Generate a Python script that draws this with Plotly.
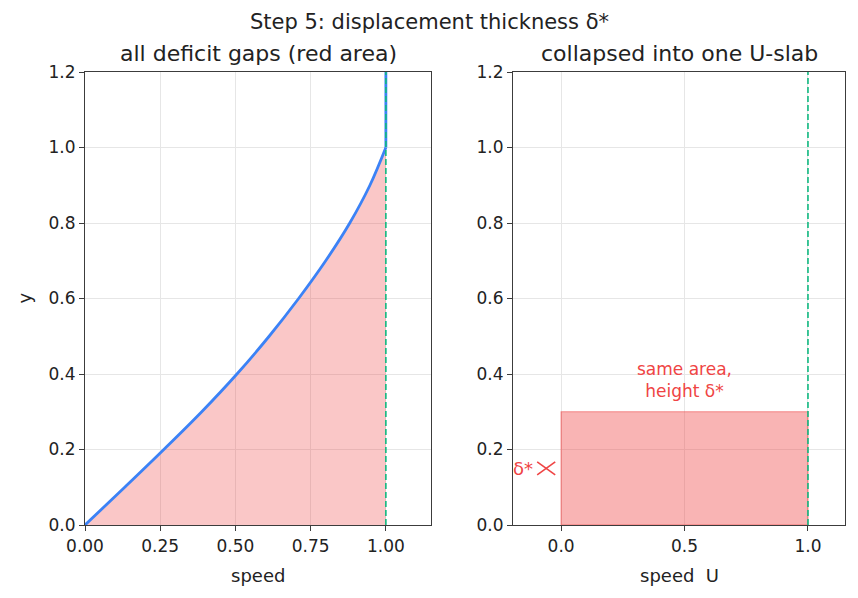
import plotly.graph_objects as go

# ---- data ----
y_vals = [0.0, 0.1, 0.2, 0.3, 0.4, 0.5, 0.6, 0.7, 0.8, 0.9, 1.0]
u_vals = [0.0, 0.132, 0.262, 0.388, 0.505, 0.612, 0.71, 0.80, 0.88, 0.947, 1.0]
y_free = [1.0, 1.2]
u_free = [1.0, 1.0]
U = 1.0
delta_star = 0.3
left_xticks = [0.0, 0.25, 0.5, 0.75, 1.0]
right_xticks = [0.0, 0.5, 1.0]
yticks = [0.0, 0.2, 0.4, 0.6, 0.8, 1.0, 1.2]

BLUE = "#3b82f6"
GREEN = "#10b981"
RED = "#ef4444"
TXT = "#222222"
AX = "#3c3c3c"
GRID = "#e6e6e6"
FONT = "DejaVu Sans"

W, H = 858, 598
L_dom = [85 / W, 431 / W]
R_dom = [513 / W, 845 / W]
Y_dom = [1 - 525 / H, 1 - 72 / H]

fig = go.Figure()

# left: deficit fill between curve and U
fig.add_trace(go.Scatter(x=[U] * len(y_vals), y=y_vals, mode="lines",
                         line=dict(width=0, color="rgba(0,0,0,0)"),
                         xaxis="x", yaxis="y", showlegend=False, hoverinfo="skip"))
fig.add_trace(go.Scatter(x=u_vals, y=y_vals, mode="lines", fill="tonextx",
                         fillcolor="rgba(239,68,68,0.30)",
                         line=dict(color=BLUE, width=2.8, shape="spline", smoothing=1.0),
                         xaxis="x", yaxis="y", showlegend=False))
fig.add_trace(go.Scatter(x=u_free, y=y_free, mode="lines",
                         line=dict(color=BLUE, width=2.8),
                         xaxis="x", yaxis="y", showlegend=False))
fig.add_trace(go.Scatter(x=[U, U], y=[0, yticks[-1]], mode="lines",
                         line=dict(color=GREEN, width=1.6, dash="6px,3px"),
                         xaxis="x", yaxis="y", showlegend=False))

# right: slab
fig.add_trace(go.Scatter(x=[0, U, U, 0, 0], y=[0, 0, delta_star, delta_star, 0],
                         mode="lines", fill="toself",
                         fillcolor="rgba(239,68,68,0.40)",
                         line=dict(color="rgba(239,68,68,0.55)", width=1.2),
                         xaxis="x2", yaxis="y2", showlegend=False))
fig.add_trace(go.Scatter(x=[U, U], y=[0, yticks[-1]], mode="lines",
                         line=dict(color=GREEN, width=1.6, dash="6px,3px"),
                         xaxis="x2", yaxis="y2", showlegend=False))

# X-shaped double arrow marker near delta*
mx0, mx1 = -0.097, -0.024
my0, my1 = delta_star / 2 - 0.017, delta_star / 2 + 0.017
fig.add_shape(type="line", x0=mx0, y0=my1, x1=mx1, y1=my0, xref="x2", yref="y2",
              line=dict(color=RED, width=1.6))
fig.add_shape(type="line", x0=mx0, y0=my0, x1=mx1, y1=my1, xref="x2", yref="y2",
              line=dict(color=RED, width=1.6))

axis_common = dict(showline=True, linecolor=AX, linewidth=1.2, mirror=True,
                   ticks="outside", ticklen=5, tickwidth=1.1, tickcolor=AX,
                   showgrid=True, gridcolor=GRID, gridwidth=0.8, zeroline=False,
                   automargin=False,
                   tickfont=dict(family=FONT, size=17, color=TXT))

fig.update_layout(
    width=W, height=H, margin=dict(l=0, r=0, t=0, b=0, autoexpand=False),
    paper_bgcolor="white", plot_bgcolor="white",
    font=dict(family=FONT, color=TXT),
    xaxis=dict(domain=L_dom, range=[0, 1.15], tickvals=left_xticks, tickformat=".2f",
               anchor="y", **axis_common),
    yaxis=dict(domain=Y_dom, range=[0, 1.2], tickvals=yticks, tickformat=".1f",
               anchor="x", **axis_common),
    xaxis2=dict(domain=R_dom, range=[-0.195, 1.15], tickvals=right_xticks, tickformat=".1f",
                anchor="y2", **axis_common),
    yaxis2=dict(domain=Y_dom, range=[0, 1.2], tickvals=yticks, tickformat=".1f",
                anchor="x2", **axis_common),
)

ann = []
ann.append(dict(text="Step 5: displacement thickness δ*", x=0.5, y=1 - 22 / H,
                xref="paper", yref="paper", showarrow=False, xanchor="center", yanchor="middle",
                font=dict(family=FONT, size=21, color=TXT)))
ann.append(dict(text="all deficit gaps (red area)", x=(L_dom[0] + L_dom[1]) / 2, y=1 - 53 / H,
                xref="paper", yref="paper", showarrow=False, xanchor="center", yanchor="middle",
                font=dict(family=FONT, size=22, color=TXT)))
ann.append(dict(text="collapsed into one U-slab", x=(R_dom[0] + R_dom[1]) / 2, y=1 - 53 / H,
                xref="paper", yref="paper", showarrow=False, xanchor="center", yanchor="middle",
                font=dict(family=FONT, size=22, color=TXT)))
ann.append(dict(text="speed", x=(L_dom[0] + L_dom[1]) / 2, y=1 - 575 / H,
                xref="paper", yref="paper", showarrow=False, xanchor="center", yanchor="middle",
                font=dict(family=FONT, size=18, color=TXT)))
ann.append(dict(text="speed\u00a0 U", x=(R_dom[0] + R_dom[1]) / 2, y=1 - 575 / H,
                xref="paper", yref="paper", showarrow=False, xanchor="center", yanchor="middle",
                font=dict(family=FONT, size=18, color=TXT)))
ann.append(dict(text="y", x=24 / W, y=(Y_dom[0] + Y_dom[1]) / 2, textangle=-90,
                xref="paper", yref="paper", showarrow=False, xanchor="center", yanchor="middle",
                font=dict(family=FONT, size=18, color=TXT)))
ann.append(dict(text="same area,<br>height δ*", x=0.5, y=delta_star + 0.085,
                xref="x2", yref="y2", showarrow=False, xanchor="center", yanchor="middle",
                font=dict(family=FONT, size=17, color=RED)))
ann.append(dict(text="δ*", x=-0.155, y=delta_star / 2,
                xref="x2", yref="y2", showarrow=False, xanchor="center", yanchor="middle",
                font=dict(family=FONT, size=18, color=RED)))
fig.update_layout(annotations=ann)

fig.write_html("out.html")
